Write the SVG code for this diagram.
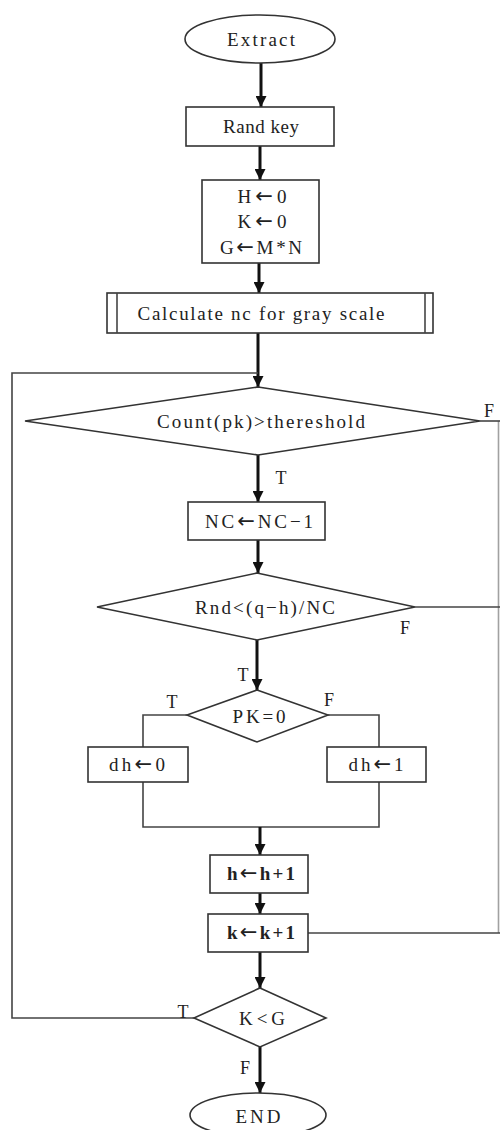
<svg xmlns="http://www.w3.org/2000/svg" width="500" height="1130" viewBox="0 0 500 1130">
<style>
.shape{fill:#fff;stroke:#333;stroke-width:1.6}
.thin{fill:none;stroke:#444;stroke-width:1.6}
.thick{fill:none;stroke:#111;stroke-width:3}
text{font-family:"Liberation Serif","Times New Roman",serif;font-size:19px;fill:#222;text-anchor:middle}
.lbl{font-size:18px}
.b{font-weight:bold}
.ar{font-family:"DejaVu Sans",sans-serif;font-size:21px;font-weight:normal}
</style>
<defs>
<marker id="ah" viewBox="0 0 10 10" refX="10" refY="5" markerUnits="userSpaceOnUse" markerWidth="11" markerHeight="11" orient="auto">
<path d="M0,0 L10,5 L0,10 z" fill="#111"/>
</marker>
</defs>
<rect width="500" height="1130" fill="#fff"/>
<g id="connectors">
<line class="thick" x1="261" y1="63" x2="261" y2="107" marker-end="url(#ah)"/>
<line class="thick" x1="260" y1="146" x2="260" y2="180" marker-end="url(#ah)"/>
<line class="thick" x1="259" y1="263" x2="259" y2="293" marker-end="url(#ah)"/>
<line class="thick" x1="258" y1="333" x2="258" y2="387" marker-end="url(#ah)"/>
<polyline class="thin" points="194,1018 12,1018 12,373 258,373"/>
<line class="thin" x1="480" y1="421" x2="500" y2="421"/>
<line class="thin" x1="498.5" y1="421" x2="498.5" y2="933" stroke-opacity="0.5"/>
<line class="thick" x1="258" y1="455" x2="258" y2="502" marker-end="url(#ah)"/>
<line class="thick" x1="258" y1="540" x2="258" y2="573" marker-end="url(#ah)"/>
<line class="thin" x1="415" y1="607" x2="500" y2="607"/>
<line class="thick" x1="257" y1="640" x2="257" y2="690" marker-end="url(#ah)"/>
<polyline class="thin" points="187,715 143,715 143,747"/>
<polyline class="thin" points="328,715 379,715 379,747"/>
<polyline class="thin" points="143,782 143,827 379,827 379,782"/>
<line class="thick" x1="260" y1="827" x2="260" y2="855" marker-end="url(#ah)"/>
<line class="thick" x1="260" y1="893" x2="260" y2="914" marker-end="url(#ah)"/>
<line class="thin" x1="308" y1="933" x2="500" y2="933"/>
<line class="thick" x1="260" y1="952" x2="260" y2="988" marker-end="url(#ah)"/>
<line class="thick" x1="260" y1="1047" x2="260" y2="1093" marker-end="url(#ah)"/>
<text class="lbl" x="489" y="417">F</text>
<text class="lbl" x="281" y="484">T</text>
<text class="lbl" x="405" y="634">F</text>
<text class="lbl" x="243" y="681">T</text>
<text class="lbl" x="172" y="708">T</text>
<text class="lbl" x="329" y="706">F</text>
<text class="lbl" x="183" y="1018">T</text>
<text class="lbl" x="245" y="1074">F</text>
</g>
<g id="extract">
<ellipse class="shape" cx="260" cy="39" rx="75" ry="24"/>
<text x="261" y="46" textLength="68" lengthAdjust="spacing">Extract</text>
</g>
<g id="randkey">
<rect class="shape" x="186" y="107" width="148" height="39"/>
<text x="261" y="133" textLength="76" lengthAdjust="spacing">Rand key</text>
</g>
<g id="init">
<rect class="shape" x="202" y="180" width="117" height="83"/>
<text x="262" y="203" textLength="49" lengthAdjust="spacing">H<tspan class="ar">←</tspan>0</text>
<text x="262" y="228" textLength="49" lengthAdjust="spacing">K<tspan class="ar">←</tspan>0</text>
<text x="261" y="254" textLength="82" lengthAdjust="spacing">G<tspan class="ar">←</tspan>M*N</text>
</g>
<g id="calc">
<rect class="shape" x="107" y="293" width="326" height="40"/>
<line class="thin" x1="117" y1="293" x2="117" y2="333"/>
<line class="thin" x1="425" y1="293" x2="425" y2="333"/>
<text x="261" y="320" textLength="247" lengthAdjust="spacing">Calculate nc for gray scale</text>
</g>
<g id="count">
<polygon class="shape" points="258,387 480,421 258,455 25,421"/>
<text x="261" y="428" textLength="208" lengthAdjust="spacing">Count(pk)&gt;thereshold</text>
</g>
<g id="nc">
<rect class="shape" x="188" y="502" width="137" height="38"/>
<text x="259" y="528" textLength="108" lengthAdjust="spacing">NC<tspan class="ar">←</tspan>NC−1</text>
</g>
<g id="rnd">
<polygon class="shape" points="257,573 415,607 257,640 97,607"/>
<text x="265" y="614" textLength="140" lengthAdjust="spacing">Rnd&lt;(q−h)/NC</text>
</g>
<g id="pk">
<polygon class="shape" points="257,690 328,715 257,742 187,715"/>
<text x="259" y="723" textLength="53" lengthAdjust="spacing">PK=0</text>
</g>
<g id="dh0">
<rect class="shape" x="88" y="747" width="100" height="35"/>
<text x="137" y="771" textLength="56" lengthAdjust="spacing">dh<tspan class="ar">←</tspan>0</text>
</g>
<g id="dh1">
<rect class="shape" x="327" y="747" width="99" height="35"/>
<text x="376" y="771" textLength="55" lengthAdjust="spacing">dh<tspan class="ar">←</tspan>1</text>
</g>
<g id="hinc">
<rect class="shape" x="210" y="855" width="98" height="38"/>
<text class="b" x="261" y="880" textLength="68" lengthAdjust="spacing">h<tspan class="ar">←</tspan>h+1</text>
</g>
<g id="kinc">
<rect class="shape" x="208" y="914" width="100" height="38"/>
<text class="b" x="261" y="939" textLength="68" lengthAdjust="spacing">k<tspan class="ar">←</tspan>k+1</text>
</g>
<g id="kg">
<polygon class="shape" points="260,988 326,1018 260,1047 194,1018"/>
<text x="262" y="1025" textLength="46" lengthAdjust="spacing">K&lt;G</text>
</g>
<g id="end">
<ellipse class="shape" cx="258" cy="1115" rx="68" ry="22"/>
<text x="258" y="1123" textLength="45" lengthAdjust="spacing">END</text>
</g>
</svg>
